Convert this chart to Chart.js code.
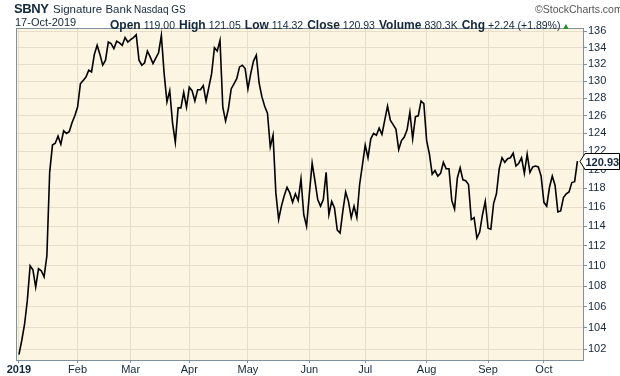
<!DOCTYPE html>
<html>
<head>
<meta charset="utf-8">
<script src="https://cdn.jsdelivr.net/npm/chart.js@4/dist/chart.umd.min.js"></script>
<style>
  html, body { margin: 0; padding: 0; background: #fff; }
  #wrap { position: relative; width: 620px; height: 376px; font-family: "Liberation Sans", Arial, sans-serif; color: #13283a; }
  #c { position: absolute; left: 0; top: 0; }
  .h { position: absolute; white-space: nowrap; line-height: 1; }
  .h b { font-size: 12px; }
  .h .v { font-size: 10.5px; margin-left: 3px; margin-right: 4px; }
</style>
</head>
<body>
<div id="wrap">
  <canvas id="c" width="620" height="376"></canvas>
  <div class="h" style="left:14px;top:2px;font-size:13px;font-weight:bold;letter-spacing:-0.4px">SBNY</div>
  <div class="h" style="left:53px;top:4px;font-size:11.5px">Signature Bank</div>
  <div class="h" style="left:134px;top:5px;font-size:10px">Nasdaq GS</div>
  <div class="h" style="left:535px;top:4px;font-size:10.5px;color:#555">&copy;StockCharts.com</div>
  <div class="h" style="left:15px;top:17px;font-size:11px">17-Oct-2019</div>
  <div class="h" style="left:110px;top:16px">
    <b>Open</b><span class="v">119.00</span><b>High</b><span class="v">121.05</span><b>Low</b><span class="v">114.32</span><b>Close</b><span class="v">120.93</span><b>Volume</b><span class="v">830.3K</span><b>Chg</b><span class="v" style="margin-right:1px">+2.24 (+1.89%)</span><span style="color:#2a8a2a;font-size:9px">&#9650;</span>
  </div>
</div>
<script>
// daily closes, 2 Jan 2019 .. 17 Oct 2019 (201 trading days)
const closes = [
  101.5, 102.8, 104.3, 106.6, 110.0, 109.6, 107.9, 109.7, 109.5, 108.9,
  111.0, 119.7, 122.7, 122.9, 123.7, 122.8, 124.3, 124.0, 124.2, 125.2,
  126.0, 127.0, 129.7, 130.1, 130.5, 131.3, 131.1, 133.2, 134.3, 133.2,
  131.9, 132.5, 134.7, 134.5, 133.9, 134.8, 134.6, 134.3, 135.25, 134.7,
  135.0, 135.25, 135.6, 132.5, 131.9, 132.2, 133.6, 132.9, 132.1, 132.75,
  133.4, 135.5, 130.9, 127.6, 128.9, 125.2, 123.0, 126.9, 126.9, 128.7,
  127.0, 129.3, 128.9, 127.7, 129.0, 129.0, 129.5, 127.7, 129.3, 130.9,
  134.0, 133.6, 134.9, 127.0, 125.4, 126.8, 129.1, 129.7, 130.3, 131.7,
  131.9, 131.5, 129.1, 130.9, 132.4, 133.1, 129.8, 128.2, 127.1, 126.3,
  122.5, 123.8, 117.5, 114.7, 116.1, 117.2, 118.1, 117.5, 116.5, 117.4,
  116.7, 119.0, 115.2, 114.0, 117.4, 120.7, 118.8, 116.8, 116.1, 116.8,
  119.7, 115.2, 116.6, 115.9, 113.6, 113.3, 115.6, 117.6, 116.6, 114.9,
  116.1, 114.9, 118.4, 120.5, 122.7, 121.3, 123.4, 124.0, 123.8, 124.6,
  123.9, 125.5, 127.1, 125.5, 125.0, 124.5, 122.2, 123.2, 123.6, 124.4,
  126.4, 123.4, 125.9, 126.0, 127.7, 127.4, 123.2, 121.7, 119.5, 119.9,
  119.3, 119.6, 120.8, 120.1, 120.1, 116.7, 115.8, 119.1, 120.2, 118.9,
  118.8, 118.4, 114.7, 114.9, 112.8, 113.4, 115.2, 116.6, 113.8, 113.7,
  116.4, 117.4, 120.1, 121.3, 120.8, 121.2, 121.3, 121.8, 120.4, 120.7,
  121.3, 119.6, 121.7, 119.7, 120.3, 120.4, 120.3, 119.3, 116.5, 116.1,
  118.1, 119.3, 118.3, 115.5, 115.6, 117.0, 117.4, 117.6, 118.6, 118.7,
  120.93
];

// first trading day of each month (index into closes)
const monthStarts = [0, 21, 40, 61, 82, 104, 124, 146, 168, 188];
const monthLabels = ['2019', 'Feb', 'Mar', 'Apr', 'May', 'Jun', 'Jul', 'Aug', 'Sep', 'Oct'];
const priceTicks = [102, 104, 106, 108, 110, 112, 114, 116, 118, 120, 122, 124, 126, 128, 130, 132, 134, 136];

const textColor = '#13283a';
const gridColor = '#e7ddc8';
const frameColor = '#7f919e';

// cream plot background + frame
const plotFrame = {
  id: 'plotFrame',
  beforeDraw(chart) {
    const { ctx, chartArea: a } = chart;
    ctx.save();
    ctx.fillStyle = '#fcf5e2';
    ctx.fillRect(a.left, a.top, a.right - a.left, a.bottom - a.top);
    ctx.restore();
  },
  afterDraw(chart) {
    const { ctx, chartArea: a } = chart;
    ctx.save();
    ctx.strokeStyle = frameColor;
    ctx.lineWidth = 1;
    ctx.strokeRect(a.left - 0.5, a.top - 0.5, a.right - a.left + 1, a.bottom - a.top + 1);
    ctx.restore();
  }
};

// last price tag on the right axis
const lastTag = {
  id: 'lastTag',
  afterDraw(chart) {
    const { ctx, scales: { y }, chartArea: a } = chart;
    const v = closes[closes.length - 1];
    const py = Math.round(y.getPixelForValue(v)) + 0.5;
    const x0 = a.right - 3, x1 = a.right + 2, x2 = 619.5, h = 8;
    ctx.save();
    ctx.beginPath();
    ctx.moveTo(x0, py);
    ctx.lineTo(x1, py - h);
    ctx.lineTo(x2, py - h);
    ctx.lineTo(x2, py + h);
    ctx.lineTo(x1, py + h);
    ctx.closePath();
    ctx.fillStyle = '#fff';
    ctx.fill();
    ctx.strokeStyle = '#000';
    ctx.lineWidth = 1;
    ctx.stroke();
    ctx.fillStyle = textColor;
    ctx.font = 'bold 11px "Liberation Sans", Arial, sans-serif';
    ctx.textBaseline = 'middle';
    ctx.fillText(v.toFixed(2), x1 + 0.5, py + 1);
    ctx.restore();
  }
};

const ctx = document.getElementById('c').getContext('2d');
new Chart(ctx, {
  type: 'line',
  data: {
    datasets: [{
      data: closes.map((v, i) => ({ x: i, y: v })),
      borderColor: '#000',
      borderWidth: 1.6,
      pointRadius: 0,
      tension: 0
    }]
  },
  options: {
    responsive: false,
    animation: false,
    layout: { padding: { left: 17, top: 29, right: 0, bottom: 0 } },
    plugins: { legend: { display: false }, tooltip: { enabled: false } },
    scales: {
      x: {
        type: 'linear',
        min: -0.7,
        max: 202,
        afterBuildTicks: s => { s.ticks = monthStarts.map(v => ({ value: v })); },
        afterFit: s => { s.height = 16; },
        grid: { color: gridColor, tickLength: 3, tickColor: frameColor },
        border: { color: frameColor },
        ticks: {
          autoSkip: false,
          maxRotation: 0,
          padding: 0,
          color: textColor,
          font: c => ({ family: '"Liberation Sans", Arial, sans-serif', size: 11, weight: c.index === 0 ? 'bold' : 'normal' }),
          callback: (v, i) => monthLabels[i]
        }
      },
      y: {
        type: 'logarithmic',
        position: 'right',
        min: 101,
        max: 136.3,
        afterBuildTicks: s => { s.ticks = priceTicks.map(v => ({ value: v })); },
        afterFit: s => { s.width = 37; },
        grid: { color: gridColor, tickLength: 4, tickColor: frameColor },
        border: { color: frameColor },
        ticks: {
          padding: 1,
          color: textColor,
          font: { family: '"Liberation Sans", Arial, sans-serif', size: 11 },
          callback: v => String(v)
        }
      }
    }
  },
  plugins: [plotFrame, lastTag]
});
</script>
</body>
</html>
